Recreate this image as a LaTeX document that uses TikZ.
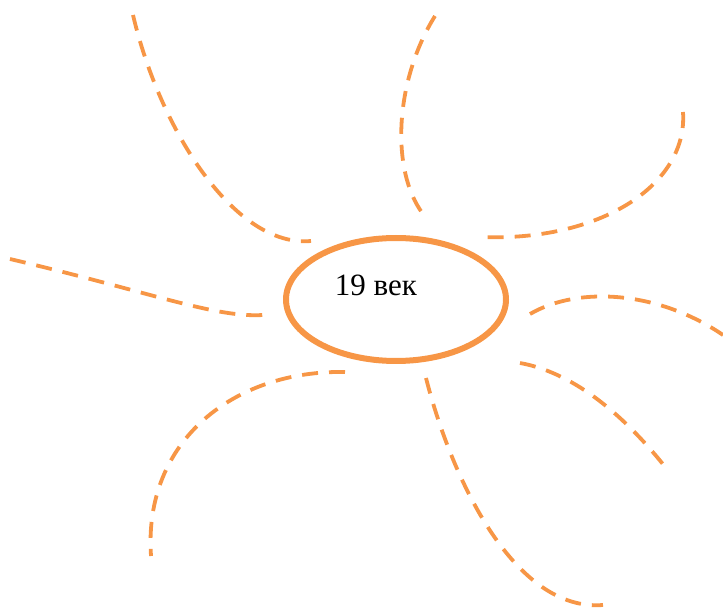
\documentclass[tikz,border=0pt]{standalone}
\usepackage{fontspec}
\setmainfont{Liberation Serif}
\usetikzlibrary{shapes.geometric}
\definecolor{accent}{HTML}{F79646}
\tikzset{
  ray/.style={draw=accent, line width=3.8pt, dash pattern=on 16pt off 11pt},
  hub/.style={ellipse, draw=accent, line width=6pt, minimum width=220pt, minimum height=123pt, inner sep=0pt},
  caption/.style={font=\fontsize{31}{36}\selectfont, text=black, inner sep=0pt}
}
\begin{document}
\begin{tikzpicture}[x=1pt,y=-1pt]
\useasboundingbox (0,0) rectangle (723,609);
\node[hub] (hub) at (396,299.5) {};
\node[caption] (lbl) at (376,285) {19 век};
% ends
\coordinate (a1) at (133,15);   \coordinate (a2) at (311,241);
\coordinate (b1) at (435,16);   \coordinate (b2) at (423,214);
\coordinate (c1) at (683,112);  \coordinate (c2) at (480,237);
\coordinate (d1) at (10,259);   \coordinate (d2) at (263,315);
\coordinate (e1) at (530,314);  \coordinate (e2) at (723,335);
\coordinate (f1) at (520,363);  \coordinate (f2) at (666,468);
\coordinate (g1) at (345,372);  \coordinate (g2) at (151,556);
\coordinate (h1) at (426,378);  \coordinate (h2) at (603,605);
\draw[ray] (a1) .. controls (160,130) and (235,248) .. (a2);
\draw[ray] (b1) .. controls (395,80) and (390,170) .. (b2);
\draw[ray] (c1) .. controls (688,185) and (600,242) .. (c2);
\draw[ray] (d1) .. controls (150,292) and (215,318) .. (d2);
\draw[ray] (e1) .. controls (580,285) and (660,292) .. (e2);
\draw[ray] (f1) .. controls (570,372) and (620,410) .. (f2);
\draw[ray] (g1) .. controls (235,370) and (143,440) .. (g2);
\draw[ray] (h1) .. controls (452,480) and (515,612) .. (h2);
\end{tikzpicture}
\end{document}
